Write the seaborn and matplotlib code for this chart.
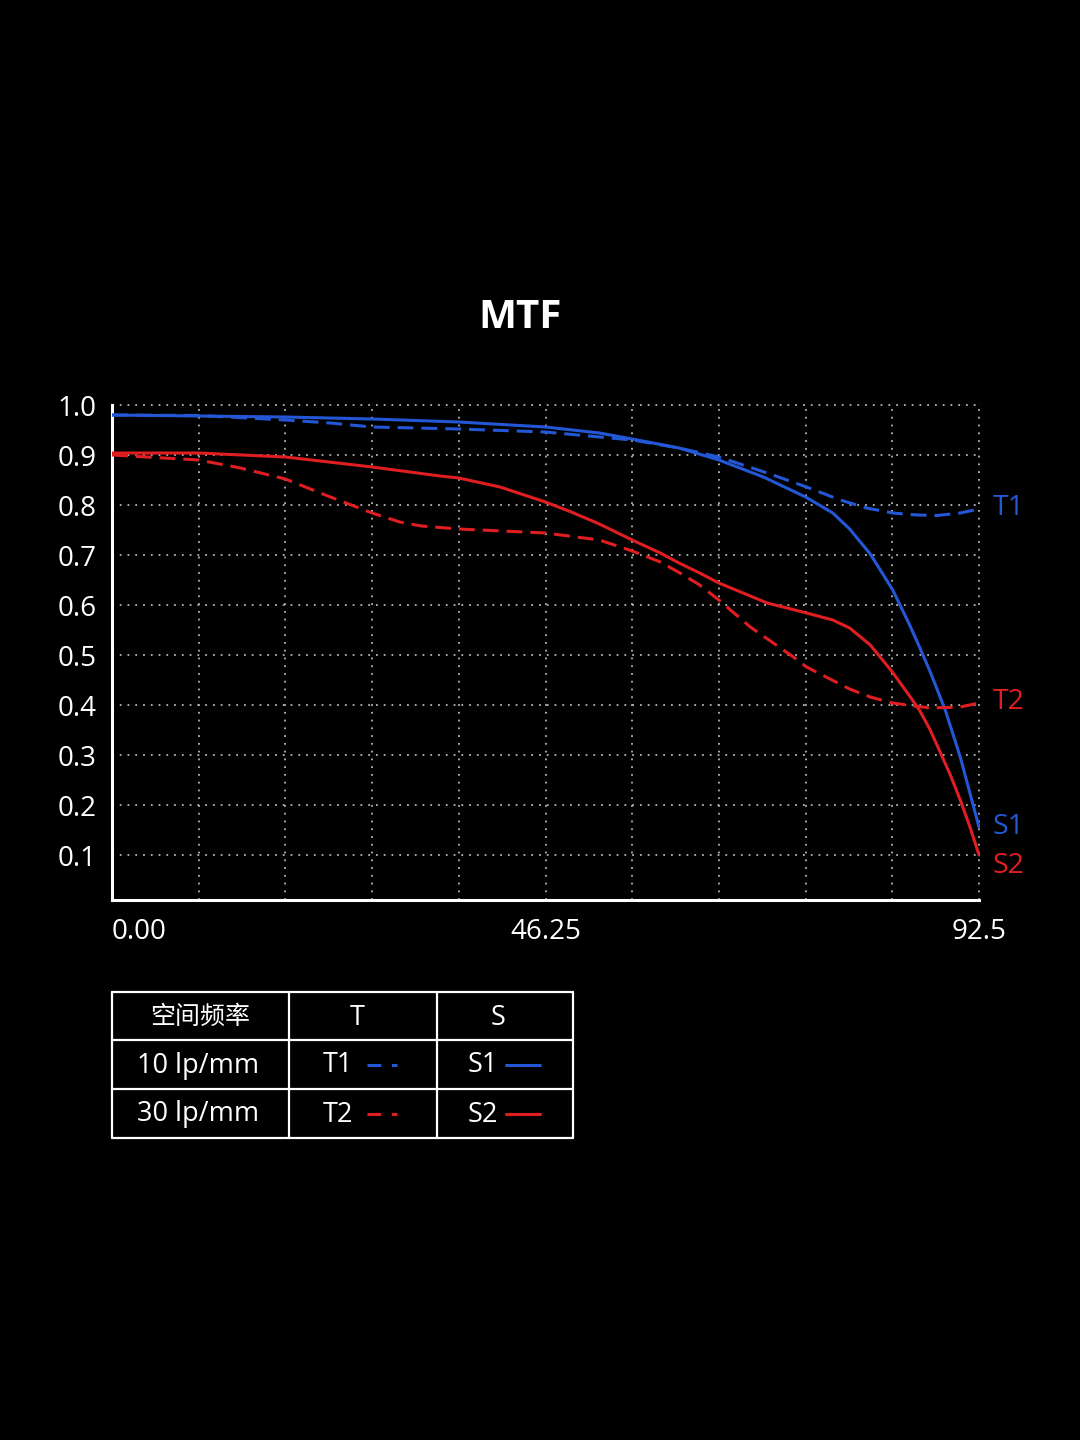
import numpy as np
import pandas as pd
import matplotlib
matplotlib.use("Agg")
import matplotlib.pyplot as plt
import seaborn as sns

# MTF curves
freq_s1 = [0, 9.25, 18.5, 27.75, 37, 46.25, 52, 55.5, 60.5, 64.75, 69.5, 74, 76.9,
           78.7, 80.9, 83.3, 85.1, 86.2, 87.3, 88.9, 90.5, 92.5]
mtf_s1 = [0.980, 0.978, 0.976, 0.972, 0.966, 0.956, 0.944, 0.932, 0.914, 0.890,
          0.856, 0.816, 0.784, 0.752, 0.702, 0.630, 0.560, 0.514, 0.466, 0.390,
          0.296, 0.156]

freq_t1 = [0, 9.25, 18.5, 23.3, 27.75, 37, 46.25, 55.5, 60.5, 64.75, 69.9, 74.1,
           77.7, 80.5, 83.3, 85.9, 88, 90.5, 92.5]
mtf_t1 = [0.980, 0.979, 0.970, 0.964, 0.956, 0.952, 0.946, 0.930, 0.914, 0.896,
          0.864, 0.836, 0.810, 0.794, 0.784, 0.780, 0.779, 0.784, 0.792]

freq_s2 = [0, 9.25, 18.5, 27.75, 35, 37, 41.4, 46.25, 49, 52, 55.5, 58.5, 60.5, 62.7,
           64.75, 69.9, 74.1, 76.9, 78.7, 80.9, 82, 83.25, 85.1, 86.2, 87.3, 89.4,
           90.5, 91.5, 92.5]
mtf_s2 = [0.904, 0.904, 0.896, 0.876, 0.858, 0.854, 0.836, 0.806, 0.786, 0.762,
          0.730, 0.704, 0.684, 0.664, 0.644, 0.604, 0.584, 0.570, 0.554, 0.520,
          0.495, 0.466, 0.418, 0.388, 0.350, 0.262, 0.210, 0.158, 0.100]

freq_t2 = [0, 9.25, 13.7, 18.5, 23.3, 27.75, 30.7, 33, 37, 46.25, 52, 55.5, 58.5,
           60.6, 62.7, 64.75, 68.1, 72.7, 74.1, 78.7, 80.9, 83.25, 87.3, 90.5, 92.5]
mtf_t2 = [0.900, 0.890, 0.874, 0.852, 0.816, 0.784, 0.766, 0.758, 0.752, 0.744,
          0.730, 0.708, 0.686, 0.664, 0.640, 0.610, 0.556, 0.496, 0.476, 0.432,
          0.416, 0.404, 0.394, 0.396, 0.404]

x_ticks = [0, 9.25, 18.5, 27.75, 37, 46.25, 55.5, 64.75, 74, 83.25, 92.5]
x_labels = ["0.00", "", "", "", "", "46.25", "", "", "", "", "92.5"]
y_ticks = [0.1, 0.2, 0.3, 0.4, 0.5, 0.6, 0.7, 0.8, 0.9, 1.0]

BLUE = "#2457d6"
RED = "#e01e22"

frames = []
for name, fx, fy in [("S1", freq_s1, mtf_s1), ("T1", freq_t1, mtf_t1),
                     ("S2", freq_s2, mtf_s2), ("T2", freq_t2, mtf_t2)]:
    frames.append(pd.DataFrame({"freq": fx, "mtf": fy, "curve": name}))
df = pd.concat(frames, ignore_index=True)

sns.set_style("dark")
plt.rcParams['font.family'] = ['Open Sans', 'Noto Sans CJK SC', 'DejaVu Sans']

fig = plt.figure(figsize=(10.8, 14.4), dpi=100, facecolor="black")
ax = fig.add_axes([112 / 1080, 0.375, 92.6 / 92.5 * 867 / 1080, 497 / 1440])
ax.set_facecolor("black")

palette = {"S1": BLUE, "T1": BLUE, "S2": RED, "T2": RED}
dashes = {"S1": "", "T1": (5.2, 2.6), "S2": "", "T2": (5.2, 2.6)}
sns.lineplot(data=df, x="freq", y="mtf", hue="curve", style="curve",
             palette=palette, dashes=dashes, estimator=None, sort=False,
             linewidth=2.2, legend=False, ax=ax, zorder=3)

ax.set_xlim(0, 92.6)
ax.set_ylim(0.01, 1.004)
ax.set_xticks(x_ticks)
ax.set_xticklabels(x_labels)
ax.set_yticks(y_ticks)
ax.set_yticklabels([f"{v:.1f}" for v in y_ticks])
ax.set_xlabel("")
ax.set_ylabel("")
ax.grid(True, color="#b4b4b4", linestyle=(0, (1, 3.3)), linewidth=1.3)

for side in ["top", "right"]:
    ax.spines[side].set_visible(False)
for side in ["left", "bottom"]:
    ax.spines[side].set_visible(True)
    ax.spines[side].set_color("white")
    ax.spines[side].set_linewidth(2.2)
ax.spines["bottom"].set_bounds(0, 92.5)
ax.spines["left"].set_bounds(0.01, 1.0)

ax.tick_params(axis="both", direction="in", length=11, width=2.2, color="white",
               labelcolor="white", labelsize=20)
ax.tick_params(axis="y", pad=11)
ax.tick_params(axis="x", pad=13)
ax.get_xticklabels()[0].set_horizontalalignment("left")

# curve end labels
ends = {"T1": (freq_t1[-1], mtf_t1[-1], BLUE, 1),
        "T2": (freq_t2[-1], mtf_t2[-1], RED, 1),
        "S1": (freq_s1[-1], mtf_s1[-1], BLUE, 0),
        "S2": (freq_s2[-1], mtf_s2[-1], RED, -8)}
for name, (ex, ey, col, dy) in ends.items():
    ax.annotate(name, xy=(ex, ey), xytext=(10, dy), textcoords="offset points",
                color=col, fontsize=20.5, ha="left", va="center", annotation_clip=False)

fig.text(520 / 1080, 1 - 318 / 1440, "MTF", color="white", fontsize=29,
         fontweight="bold", ha="center", va="center")

# legend table, drawn in pixel layout space
tab = fig.add_axes([0, 0, 1, 1])
tab.set_xlim(0, 1080)
tab.set_ylim(1440, 0)
tab.axis("off")
tab.patch.set_alpha(0)

col_x = [112, 289, 437, 573]
row_y = [992, 1040, 1089, 1138]
for cx in col_x:
    tab.plot([cx, cx], [row_y[0], row_y[-1]], color="white", lw=1.6)
for ry in row_y:
    tab.plot([col_x[0], col_x[-1]], [ry, ry], color="white", lw=1.6)

def mid(a, b):
    return (a + b) / 2

txt = dict(color="white", fontsize=19.5, va="center")
tab.text(mid(col_x[0], col_x[1]), mid(row_y[0], row_y[1]) + 1, "空间频率", ha="center",
         color="white", fontsize=18, va="center",
         family=['Noto Sans CJK SC', 'DejaVu Sans'])
tab.text(mid(col_x[1], col_x[2]) - 6, mid(row_y[0], row_y[1]) + 2, "T", ha="center", **txt)
tab.text(mid(col_x[2], col_x[3]) - 7, mid(row_y[0], row_y[1]) + 2, "S", ha="center", **txt)

freq_rows = ["10 lp/mm", "30 lp/mm"]
row_colors = [BLUE, RED]
for i, (lab, col) in enumerate(zip(freq_rows, row_colors)):
    yc = mid(row_y[i + 1], row_y[i + 2])
    tab.text(mid(col_x[0], col_x[1]) - 2, yc + 1, lab, ha="center", **txt)
    tab.text(338, yc + 1, f"T{i + 1}", ha="center", **txt)
    tab.plot([367, 397], [yc, yc], color=col, lw=2.2, linestyle=(0, (4.5, 3.5)))
    tab.text(483, yc + 1, f"S{i + 1}", ha="center", **txt)
    tab.plot([506, 540], [yc, yc], color=col, lw=2.2)

fig.savefig("out.png", dpi=100, facecolor="black")
